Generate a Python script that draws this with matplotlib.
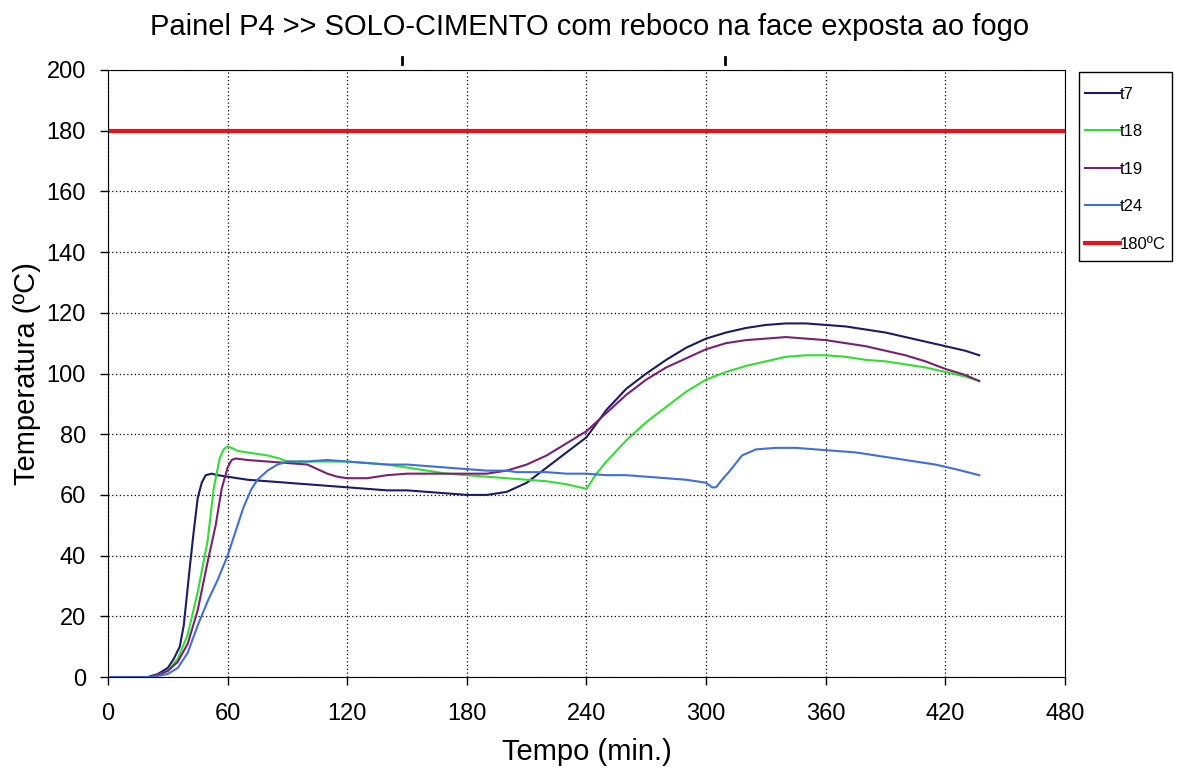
import numpy as np
import matplotlib
matplotlib.use('Agg')
import matplotlib.pyplot as plt
from matplotlib.patches import Rectangle
from matplotlib.lines import Line2D

plt.rcParams['font.family'] = ['Liberation Sans', 'DejaVu Sans']

# t7
t7_time = [0, 20, 25, 30, 33, 36, 38, 41, 43, 45, 47, 49, 52, 55, 60, 70, 80, 90, 100, 110,
           120, 130, 140, 150, 160, 170, 180, 190, 200, 210, 220, 230, 240, 250, 260, 270,
           280, 290, 300, 310, 320, 330, 340, 350, 360, 370, 380, 390, 400, 410, 420, 430, 437]
t7_temp = [0, 0, 1, 3, 6, 10, 17, 36, 48, 59, 64, 66.5, 67, 66.5, 66, 65, 64.5, 64, 63.5, 63,
           62.5, 62, 61.5, 61.5, 61, 60.5, 60, 60, 61, 64, 69, 74, 79, 88, 95, 100,
           104.5, 108.5, 111.5, 113.5, 115, 116, 116.5, 116.5, 116, 115.5, 114.5, 113.5, 112, 110.5, 109, 107.5, 106]

# t18
t18_time = [0, 22, 30, 35, 40, 45, 50, 53, 56, 58, 60, 62, 65, 70, 80, 86, 90, 100, 110, 120,
            130, 140, 150, 160, 170, 180, 190, 200, 210, 220, 230, 240, 241, 245, 250, 260,
            270, 280, 290, 300, 310, 320, 330, 340, 350, 360, 370, 380, 390, 400, 410, 420, 430, 437]
t18_temp = [0, 0, 2, 6, 14, 28, 45, 62, 72, 75, 76, 75.5, 74.5, 74, 73, 72, 71, 71, 71, 71,
            70.5, 70, 69, 68, 67, 66.5, 66, 65.5, 65, 64.5, 63.5, 62, 63, 67, 71, 78,
            84, 89, 94, 98, 100.5, 102.5, 104, 105.5, 106, 106, 105.5, 104.5, 104, 103, 102, 100.5, 99, 97.5]

# t19
t19_time = [0, 22, 30, 35, 40, 45, 50, 54, 57, 60, 62, 64, 70, 80, 90, 100, 110, 115, 120, 130,
            140, 150, 160, 170, 180, 190, 200, 210, 220, 230, 240, 250, 260, 270, 280, 290,
            300, 310, 320, 330, 340, 350, 360, 370, 380, 390, 400, 410, 420, 430, 437]
t19_temp = [0, 0, 2, 5, 11, 22, 38, 50, 62, 69, 71.5, 72, 71.5, 71, 70.5, 70, 67, 66, 65.5, 65.5,
            66.5, 67, 67, 67, 67, 67, 68, 70, 73, 77, 81, 87, 93, 98, 102, 105,
            108, 110, 111, 111.5, 112, 111.5, 111, 110, 109, 107.5, 106, 104, 101.5, 99.5, 97.5]

# t24
t24_time = [0, 22, 30, 35, 40, 45, 50, 55, 60, 65, 68, 72, 75, 80, 85, 90, 100, 110, 120, 130,
            140, 150, 160, 170, 180, 190, 200, 205, 210, 220, 230, 240, 250, 260, 270, 280,
            290, 300, 303, 305, 308, 312, 318, 325, 335, 345, 355, 365, 375, 385, 395, 405,
            415, 425, 437]
t24_temp = [0, 0, 1, 3, 8, 17, 25, 32, 40, 50, 56, 62, 65, 68, 70, 71, 71, 71.5, 71, 70.5,
            70, 70, 69.5, 69, 68.5, 68, 68, 67.5, 67.5, 67.5, 67, 67, 66.5, 66.5, 66, 65.5,
            65, 64, 62.5, 62.5, 65, 68, 73, 75, 75.5, 75.5, 75, 74.5, 74, 73, 72, 71,
            70, 68.5, 66.5]

limit = 180

fig = plt.figure(figsize=(11.79, 7.69), dpi=100)
ax = fig.add_axes([0.0916, 0.1196, 0.8117, 0.7894])

ax.plot(t7_time, t7_temp, color='#1b1b6b', lw=1.5, label='t7')
ax.plot(t18_time, t18_temp, color='#33dd33', lw=1.5, label='t18')
ax.plot(t19_time, t19_temp, color='#7b2070', lw=1.5, label='t19')
ax.plot(t24_time, t24_temp, color='#3f6fdc', lw=1.5, label='t24')
ax.axhline(limit, color='#e3141c', lw=3, label='180ºC')

ax.set_xlim(0, 480)
ax.set_ylim(0, 200)
ax.set_xticks(np.arange(0, 481, 60))
ax.set_yticks(np.arange(0, 201, 20))
ax.tick_params(labelsize=17, direction='out', length=6, width=1)
ax.tick_params(axis='x', pad=13)
ax.tick_params(axis='y', pad=10)
ax.grid(True, color='black', linestyle=(0, (1, 2)), lw=0.9)
for s in ax.spines.values():
    s.set_color('black')

ax.set_xlabel('Tempo (min.)', fontsize=21, labelpad=9)
ax.set_ylabel('Temperatura (ºC)', fontsize=21, labelpad=4)
fig.suptitle('Painel P4 >> SOLO-CIMENTO com reboco na face exposta ao fogo',
             fontsize=21, y=0.983)

# legend frame drawn separately (box is taller than the entries need)
fig.add_artist(Rectangle((1079 / 1179, 1 - 261 / 769), 93 / 1179, 189 / 769,
                         transform=fig.transFigure, fill=False, edgecolor='black', lw=1.0))
leg = ax.legend(loc='upper left', bbox_to_anchor=(1.0131, 0.985), fontsize=12,
                frameon=False, handlelength=2.1, handletextpad=0.0,
                labelspacing=1.35, borderpad=0.45, borderaxespad=0)

# two small marks above the plot
for xm in (402, 725):
    fig.add_artist(Line2D([xm / 1179, xm / 1179], [1 - 57 / 769, 1 - 64 / 769],
                          transform=fig.transFigure, color='black', lw=2))

fig.savefig('out.png', dpi=100)
